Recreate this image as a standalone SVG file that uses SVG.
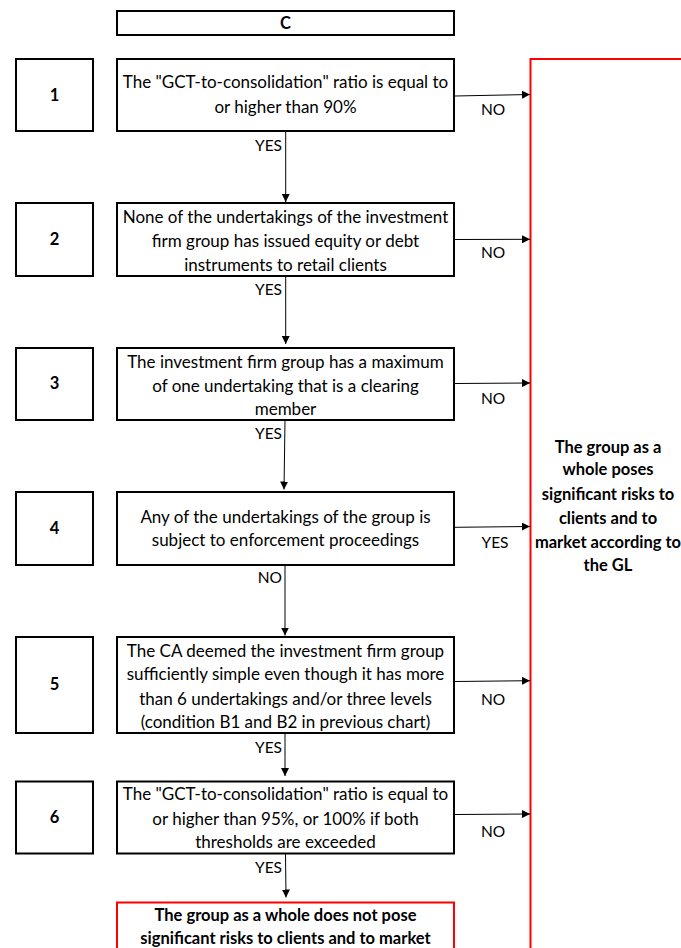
<svg xmlns="http://www.w3.org/2000/svg" width="681" height="948" viewBox="0 0 681 948">
<defs>
<style>
.box{fill:#fff;stroke:#000;stroke-width:2}
.red{fill:#fff;stroke:#ff0000;stroke-width:2}
.t{font-family:Lato,"Liberation Sans",sans-serif;font-size:17px;fill:#000;text-anchor:middle}
.b{font-weight:bold;font-size:16.5px}
.lbl{font-family:Lato,"Liberation Sans",sans-serif;font-size:15.5px;fill:#000}
.end{text-anchor:end}
.mid{text-anchor:middle}
.con{stroke:#000;stroke-width:1;fill:none;marker-end:url(#arr)}
</style>
<marker id="arr" viewBox="0 0 10 10" refX="10" refY="5" markerWidth="8" markerHeight="8" markerUnits="userSpaceOnUse" orient="auto">
<path d="M0,0 L10,5 L0,10 Z" fill="#000"/>
</marker>
</defs>
<rect width="681" height="948" fill="#fff"/>

<g id="header">
<rect class="box" x="117" y="11" width="337" height="24"/>
<text class="t b" x="285.5" y="29">C</text>
</g>

<g id="yes-outcome">
<rect class="red" x="530.5" y="59" width="160" height="900"/>
<text class="t b" x="608" y="452.7">The group as a</text>
<text class="t b" x="608" y="475.3">whole poses</text>
<text class="t b" x="608" y="499.7">significant risks to</text>
<text class="t b" x="608" y="523.7">clients and to</text>
<text class="t b" x="608" y="547.7">market according to</text>
<text class="t b" x="608" y="571">the GL</text>
</g>

<g id="n1">
<rect class="box" x="16" y="59" width="77" height="72"/>
<text class="t b" x="54.5" y="100.5">1</text>
</g>
<g id="q1">
<rect class="box" x="117" y="59" width="337" height="72"/>
<text class="t" x="285.5" y="88">The "GCT-to-consolidation" ratio is equal to</text>
<text class="t" x="285.5" y="113">or higher than 90%</text>
</g>

<g id="n2">
<rect class="box" x="16" y="203" width="77" height="73"/>
<text class="t b" x="54.5" y="245">2</text>
</g>
<g id="q2">
<rect class="box" x="117" y="203" width="337" height="73"/>
<text class="t" x="285.5" y="222.7">None of the undertakings of the investment</text>
<text class="t" x="285.5" y="246.7">firm group has issued equity or debt</text>
<text class="t" x="285.5" y="271">instruments to retail clients</text>
</g>

<g id="n3">
<rect class="box" x="16" y="348" width="77" height="72"/>
<text class="t b" x="54.5" y="389">3</text>
</g>
<g id="q3">
<rect class="box" x="117" y="348" width="337" height="72"/>
<text class="t" x="285.5" y="367.7">The investment firm group has a maximum</text>
<text class="t" x="285.5" y="391.7">of one undertaking that is a clearing</text>
<text class="t" x="285.5" y="415.3">member</text>
</g>

<g id="n4">
<rect class="box" x="16" y="492" width="77" height="73"/>
<text class="t b" x="54.5" y="534">4</text>
</g>
<g id="q4">
<rect class="box" x="117" y="492" width="337" height="73"/>
<text class="t" x="285.5" y="522.7">Any of the undertakings of the group is</text>
<text class="t" x="285.5" y="546">subject to enforcement proceedings</text>
</g>

<g id="n5">
<rect class="box" x="16" y="637" width="77" height="96"/>
<text class="t b" x="54.5" y="690">5</text>
</g>
<g id="q5">
<rect class="box" x="117" y="637" width="337" height="96"/>
<text class="t" x="285.5" y="656.7">The CA deemed the investment firm group</text>
<text class="t" x="285.5" y="680.3">sufficiently simple even though it has more</text>
<text class="t" x="285.5" y="704.7">than 6 undertakings and/or three levels</text>
<text class="t" x="285.5" y="728.3">(condition B1 and B2 in previous chart)</text>
</g>

<g id="n6">
<rect class="box" x="16" y="781.5" width="77" height="72"/>
<text class="t b" x="54.5" y="822.7">6</text>
</g>
<g id="q6">
<rect class="box" x="117" y="781.5" width="337" height="72"/>
<text class="t" x="285.5" y="800.3">The "GCT-to-consolidation" ratio is equal to</text>
<text class="t" x="285.5" y="824.7">or higher than 95%, or 100% if both</text>
<text class="t" x="285.5" y="848.3">thresholds are exceeded</text>
</g>

<g id="no-outcome">
<rect class="red" x="117" y="902.5" width="337" height="60"/>
<text class="t b" x="285.5" y="921">The group as a whole does not pose</text>
<text class="t b" x="285.5" y="944.3">significant risks to clients and to market</text>
</g>

<g id="connectors">
<path class="con" d="M285.7,131 L285.7,202"/>
<path class="con" d="M285.7,276 L285.7,344"/>
<path class="con" d="M285,420 L284,489.5"/>
<path class="con" d="M285,565 L285,635.5"/>
<path class="con" d="M285,733 L285,776"/>
<path class="con" d="M285.5,853.5 L286,897.5"/>
<path class="con" d="M455,96 L530,94.5"/>
<path class="con" d="M455,239.5 L530,239.3"/>
<path class="con" d="M455,383.5 L530,383"/>
<path class="con" d="M455,527.3 L530,526.5"/>
<path class="con" d="M455,681.5 L530,680.7"/>
<path class="con" d="M455,814.5 L530,814"/>
<text class="lbl end" x="282" y="151">YES</text>
<text class="lbl end" x="282" y="295">YES</text>
<text class="lbl end" x="282" y="439">YES</text>
<text class="lbl end" x="282" y="583">NO</text>
<text class="lbl end" x="282" y="752.7">YES</text>
<text class="lbl end" x="282" y="872.7">YES</text>
<text class="lbl mid" x="493" y="115">NO</text>
<text class="lbl mid" x="493" y="258.3">NO</text>
<text class="lbl mid" x="493" y="404.3">NO</text>
<text class="lbl mid" x="495" y="547.7">YES</text>
<text class="lbl mid" x="493" y="704.7">NO</text>
<text class="lbl mid" x="493" y="836.7">NO</text>
</g>
</svg>
